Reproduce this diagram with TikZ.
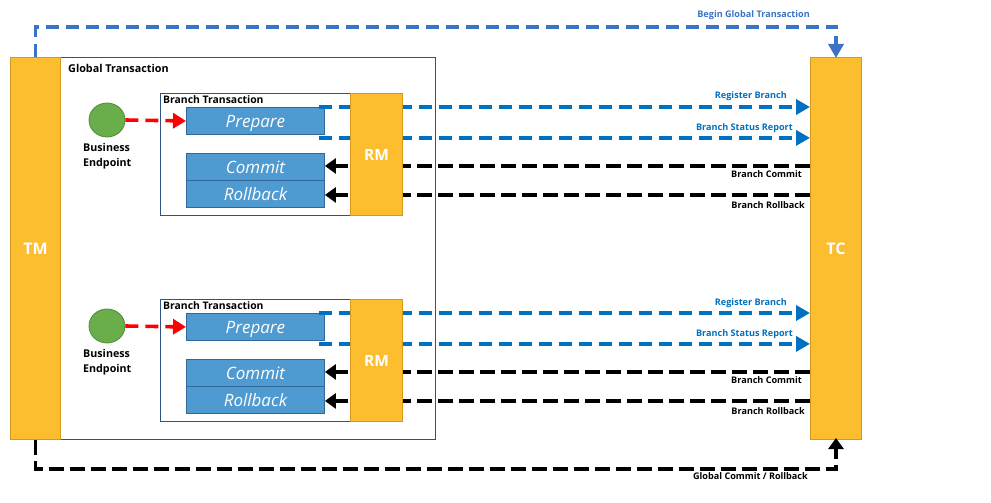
\documentclass[tikz,border=0pt]{standalone}
\usepackage{fontspec}
\setmainfont{Open Sans}
\usetikzlibrary{arrows.meta,calc,shapes.geometric}
\definecolor{orng}{HTML}{FCBD2F}
\definecolor{orngb}{HTML}{D4981C}
\definecolor{bbox}{HTML}{4F9BD1}
\definecolor{bboxb}{HTML}{31689A}
\definecolor{frm}{HTML}{2F5384}
\definecolor{blu}{HTML}{0070C0}
\definecolor{blu2}{HTML}{3B74C4}
\definecolor{grn}{HTML}{6AAD4B}
\definecolor{grnb}{HTML}{4F8A34}
\begin{document}
\begin{tikzpicture}[x=1pt,y=-1pt,
  bar/.style={draw=orngb,fill=orng,line width=1pt,inner sep=0pt,anchor=north west,
    text=white,font=\bfseries\fontsize{16}{18}\selectfont},
  frame/.style={draw=frm,line width=0.9pt,inner sep=0pt,anchor=north west},
  opbox/.style={draw=bboxb,fill=bbox,line width=0.9pt,inner sep=0pt,anchor=north west,
    minimum width=138pt,minimum height=27pt,text height=14pt,text depth=0pt,
    text=white,font=\itshape\fontsize{17}{19}\selectfont},
  ttl/.style={anchor=west,inner sep=0pt,font=\bfseries\fontsize{10.8}{12}\selectfont},
  bluelbl/.style={anchor=base east,inner sep=0pt,text=blu,font=\bfseries\fontsize{9.1}{11}\selectfont},
  blklbl/.style={anchor=base east,inner sep=0pt,font=\bfseries\fontsize{9.1}{11}\selectfont},
  bluarr/.style={draw=blu,line width=3.6pt,dash pattern=on 13pt off 7pt,-{Triangle[length=14pt,width=15pt]}},
  blkarr/.style={draw=black,line width=3.6pt,dash pattern=on 15pt off 6pt,-{Triangle[length=11pt,width=15pt]}},
  redarr/.style={draw=red,line width=3.6pt,dash pattern=on 13pt off 7pt,-{Triangle[length=13pt,width=15pt]}},
  endpt/.style={draw=grnb,fill=grn,line width=0.8pt,ellipse,minimum width=36pt,minimum height=34pt,inner sep=0pt},
  eplbl/.style={align=left,inner sep=0pt,anchor=north west,font=\bfseries\fontsize{10.7}{15}\selectfont}
]
\useasboundingbox (0,0) rectangle (991,503);
% global frame
\node[frame,minimum width=375pt,minimum height=382pt] (gframe) at (60,57) {};
\node[ttl] (gtitle) at (68,68.5) {Global Transaction};
% TM and TC
\node[bar,minimum width=50pt,minimum height=382pt] (tm) at (10,57) {};
\node[text=white,font=\bfseries\fontsize{16}{18}\selectfont] (tmlbl) at (tm.center) {TM};
\node[bar,minimum width=51pt,minimum height=382pt] (tc) at (810,57) {};
\node[text=white,font=\bfseries\fontsize{16}{18}\selectfont] (tclbl) at (tc.center) {TC};
% begin global transaction
\coordinate (bg1) at ($(tm.north)+(0,-30)$);
\coordinate (bg2) at ($(tc.north)+(0,-30)$);
\draw[draw=blu2,line width=3.6pt,dash pattern=on 13pt off 7pt,-{Triangle[length=14pt,width=15pt]}]
  (tm.north) -- (bg1) -- (bg2) -- ([yshift=-1pt]tc.north);
\node[bluelbl,text=blu2] (bglbl) at (810,18) {Begin Global Transaction};
% global commit / rollback
\coordinate (gc1) at ($(tm.south)+(0,29)$);
\coordinate (gc2) at ($(tc.south)+(0,29)$);
\draw[blkarr] (tm.south) -- (gc1) -- (gc2) -- ([yshift=2pt]tc.south);
\node[blklbl] (gclbl) at (808,479) {Global Commit / Rollback};

\foreach \i/\dy in {1/0,2/206}{
  \node[frame,minimum width=242pt,minimum height=122pt] (bf\i) at (160,93+\dy) {};
  \node[ttl,font=\bfseries\fontsize{10.4}{12}\selectfont] (bt\i) at (163,99.5+\dy) {Branch Transaction};
  \node[opbox] (prep\i) at (186,107+\dy) {Prepare};
  \node[opbox] (com\i) at (186,153+\dy) {Commit};
  \node[opbox] (rol\i) at (186,180+\dy) {Rollback};
  \node[endpt] (ep\i) at (107,120+\dy) {};
  \node[eplbl] (epl\i) at (83,143.5+\dy) {Business\\Endpoint};
  \draw[redarr] (ep\i.east) -- (prep\i.west);
  % blue messages
  \coordinate (rs\i) at ($(prep\i.north east)+(-6,0)$);
  \coordinate (ss\i) at ($(prep\i.south east)+(-6,3)$);
  \draw[bluarr] (rs\i) -- (rs\i -| tc.west);
  \draw[bluarr] (ss\i) -- (ss\i -| tc.west);
  \node[bluelbl] (rl\i) at (787,99+\dy) {Register Branch};
  \node[bluelbl] (sl\i) at (793,130+\dy) {Branch Status Report};
  % black messages
  \coordinate (cs\i) at ($(tc.west |- com\i.east)+(0,-1)$);
  \coordinate (os\i) at ($(tc.west |- rol\i.east)+(0,1)$);
  \draw[blkarr] (cs\i) -- (cs\i -| com\i.east);
  \draw[blkarr] (os\i) -- (os\i -| rol\i.east);
  \node[blklbl] (cl\i) at (802,177+\dy) {Branch Commit};
  \node[blklbl] (ol\i) at (805,208+\dy) {Branch Rollback};
  % RM
  \node[bar,minimum width=52pt,minimum height=122pt] (rm\i) at (350,93+\dy) {};
  \node[text=white,font=\bfseries\fontsize{15.5}{18}\selectfont] (rml\i) at (rm\i.center) {RM};
}
\end{tikzpicture}
\end{document}
